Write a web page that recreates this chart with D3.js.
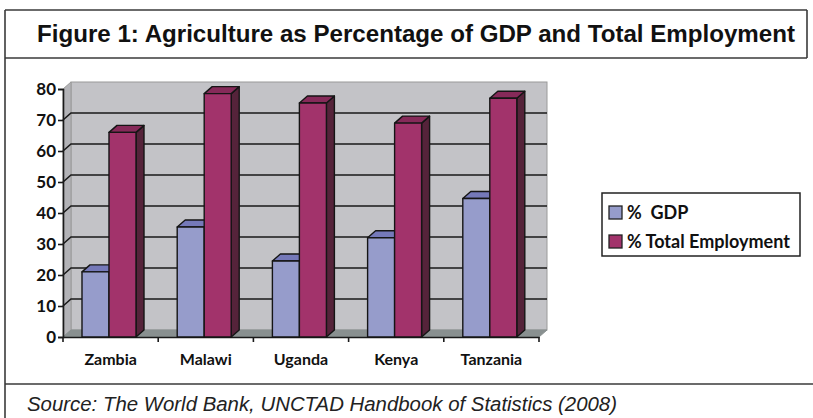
<!DOCTYPE html>
<html>
<head>
<meta charset="utf-8">
<script src="https://cdn.jsdelivr.net/npm/d3@7"></script>
<style>
  html, body { margin: 0; padding: 0; background: #fff; }
  svg { display: block; }
</style>
</head>
<body>
<svg id="chart" width="813" height="418"></svg>
<script>
const categories = ["Zambia", "Malawi", "Uganda", "Kenya", "Tanzania"];
const gdpValues = [21, 35.5, 24.5, 32, 44.7];
const employmentValues = [66, 78.5, 75.5, 69, 77];
const seriesNames = ["% GDP", "% Total Employment"];
const yTicks = [0, 10, 20, 30, 40, 50, 60, 70, 80];
const titleText = "Figure 1: Agriculture as Percentage of GDP and Total Employment";
const sourceText = "Source: The World Bank, UNCTAD Handbook of Statistics (2008)";

(function () {
const svg = d3.select("#chart");
const W = 813, H = 418;

// frame
const frame = svg.append("g").attr("fill", "none").attr("stroke", "#3a3a3a").attr("stroke-width", 1.6);
frame.append("line").attr("x1", 5).attr("x2", 807).attr("y1", 10).attr("y2", 10);
frame.append("line").attr("x1", 5).attr("x2", 5).attr("y1", 10).attr("y2", H);
frame.append("line").attr("x1", 807).attr("x2", 807).attr("y1", 10).attr("y2", 58);
frame.append("line").attr("x1", 5).attr("x2", 807).attr("y1", 58).attr("y2", 58);
frame.append("line").attr("x1", 5).attr("x2", 813).attr("y1", 384).attr("y2", 384);

svg.append("text")
  .attr("x", 416).attr("y", 42)
  .attr("text-anchor", "middle")
  .attr("font-family", "Liberation Sans, Arial, sans-serif")
  .attr("font-weight", "bold")
  .attr("font-size", 23)
  .attr("textLength", 758).attr("lengthAdjust", "spacingAndGlyphs")
  .attr("fill", "#111")
  .text(titleText);

svg.append("text")
  .attr("x", 27).attr("y", 411)
  .attr("font-family", "Liberation Sans, Arial, sans-serif")
  .attr("font-style", "italic")
  .attr("font-size", 20)
  .attr("textLength", 590).attr("lengthAdjust", "spacingAndGlyphs")
  .attr("fill", "#222")
  .text(sourceText);

// scales
const y = d3.scaleLinear().domain([0, 80]).range([337, 89]);
const x0 = d3.scaleBand().domain(categories).range([63, 539]).padding(0);
const dx = 8, dy = -7;
const barW = 27, barOffset = 19;
const xSeries = d3.scaleBand().domain(seriesNames).range([barOffset, barOffset + 2 * barW]).padding(0);

const pLeft = 63, pRight = 539, pBottom = y(0), pTop = y(80);

const plot = svg.append("g");
// back wall
plot.append("rect")
  .attr("x", pLeft + dx).attr("y", pTop + dy)
  .attr("width", pRight - pLeft).attr("height", pBottom - pTop)
  .attr("fill", "#c3c3c7").attr("stroke", "#9a9a9a").attr("stroke-width", 1);
// side wall
plot.append("polygon")
  .attr("points", [[pLeft, pTop], [pLeft + dx, pTop + dy], [pLeft + dx, pBottom + dy], [pLeft, pBottom]].join(" "))
  .attr("fill", "#b3b3b7").attr("stroke", "#9a9a9a").attr("stroke-width", 1);
// floor
plot.append("polygon")
  .attr("points", [[pLeft, pBottom], [pRight, pBottom], [pRight + dx, pBottom + dy], [pLeft + dx, pBottom + dy]].join(" "))
  .attr("fill", "#899090").attr("stroke", "#899090").attr("stroke-width", 1);

// grid lines
plot.selectAll(".grid").data(yTicks.filter(t => t > 0 && t < 80)).join("path")
  .attr("d", t => `M${pLeft},${y(t)} L${pLeft + dx},${y(t) + dy} L${pRight + dx},${y(t) + dy}`)
  .attr("fill", "none").attr("stroke", "#1a1a1a").attr("stroke-width", 1.6);

const labelFont = "Lato, 'Open Sans', sans-serif";

// y axis
const yAxis = d3.axisLeft(y).tickValues(yTicks).tickSize(5).tickPadding(2);
const yg = svg.append("g").attr("transform", `translate(${pLeft},0)`).call(yAxis);
yg.select(".domain").attr("stroke", "#1a1a1a").attr("stroke-width", 1.6);
yg.selectAll(".tick line").attr("stroke", "#1a1a1a").attr("stroke-width", 1.6);
yg.selectAll(".tick text")
  .attr("font-family", labelFont)
  .attr("font-weight", "bold").attr("font-size", 17).attr("fill", "#111");

// x axis
const xAxis = d3.axisBottom(x0).tickSize(0).tickPadding(17);
const xg = svg.append("g").attr("transform", `translate(0,${pBottom})`).call(xAxis);
xg.select(".domain").attr("stroke", "#1a1a1a").attr("stroke-width", 1.6);
xg.selectAll(".tick text")
  .attr("font-family", labelFont)
  .attr("font-weight", "bold").attr("font-size", 16).attr("fill", "#111");
xg.selectAll(".sep").data(categories.concat(["end"])).join("line")
  .attr("x1", (d, i) => i < categories.length ? x0(d) : pRight)
  .attr("x2", (d, i) => i < categories.length ? x0(d) : pRight)
  .attr("y1", 0).attr("y2", 5)
  .attr("stroke", "#1a1a1a").attr("stroke-width", 1.6);

// bars
const colors = {
  "% GDP": { front: "#969ccb", top: "#7579b9", side: "#6a6e9e" },
  "% Total Employment": { front: "#a2336b", top: "#862a59", side: "#55233a" }
};
const series = [
  { name: seriesNames[0], values: gdpValues },
  { name: seriesNames[1], values: employmentValues }
];
const bars = [];
series.forEach(s => categories.forEach((c, i) => bars.push({ name: s.name, cat: c, v: s.values[i] })));

const barG = svg.append("g").attr("stroke", "#151515").attr("stroke-width", 1.4).attr("stroke-linejoin", "round");
bars.forEach(b => {
  const x = x0(b.cat) + xSeries(b.name);
  const yt = y(b.v);
  const c = colors[b.name];
  const g = barG.append("g");
  g.append("polygon")
    .attr("points", [[x + barW, yt], [x + barW + dx, yt + dy], [x + barW + dx, pBottom + dy], [x + barW, pBottom]].join(" "))
    .attr("fill", c.side);
  g.append("polygon")
    .attr("points", [[x, yt], [x + dx, yt + dy], [x + barW + dx, yt + dy], [x + barW, yt]].join(" "))
    .attr("fill", c.top);
  g.append("rect")
    .attr("x", x).attr("y", yt).attr("width", barW).attr("height", pBottom - yt)
    .attr("fill", c.front);
});

// legend
const lg = svg.append("g");
lg.append("rect").attr("x", 602).attr("y", 193).attr("width", 198).attr("height", 63)
  .attr("fill", "#fff").attr("stroke", "#222").attr("stroke-width", 1.5);
seriesNames.forEach((n, i) => {
  const yy = 206 + i * 29;
  lg.append("rect").attr("x", 609).attr("y", yy).attr("width", 13).attr("height", 13)
    .attr("fill", colors[n].front).attr("stroke", "#222").attr("stroke-width", 1.3);
  lg.append("text").attr("x", 627).attr("y", yy + 6.5).attr("dy", "0.36em")
    .attr("font-family", labelFont)
    .attr("font-weight", "bold").attr("font-size", 18).attr("fill", "#111")
    .attr("xml:space", "preserve")
    .text(i === 0 ? "%  GDP" : n);
});
})();
</script>
</body>
</html>
